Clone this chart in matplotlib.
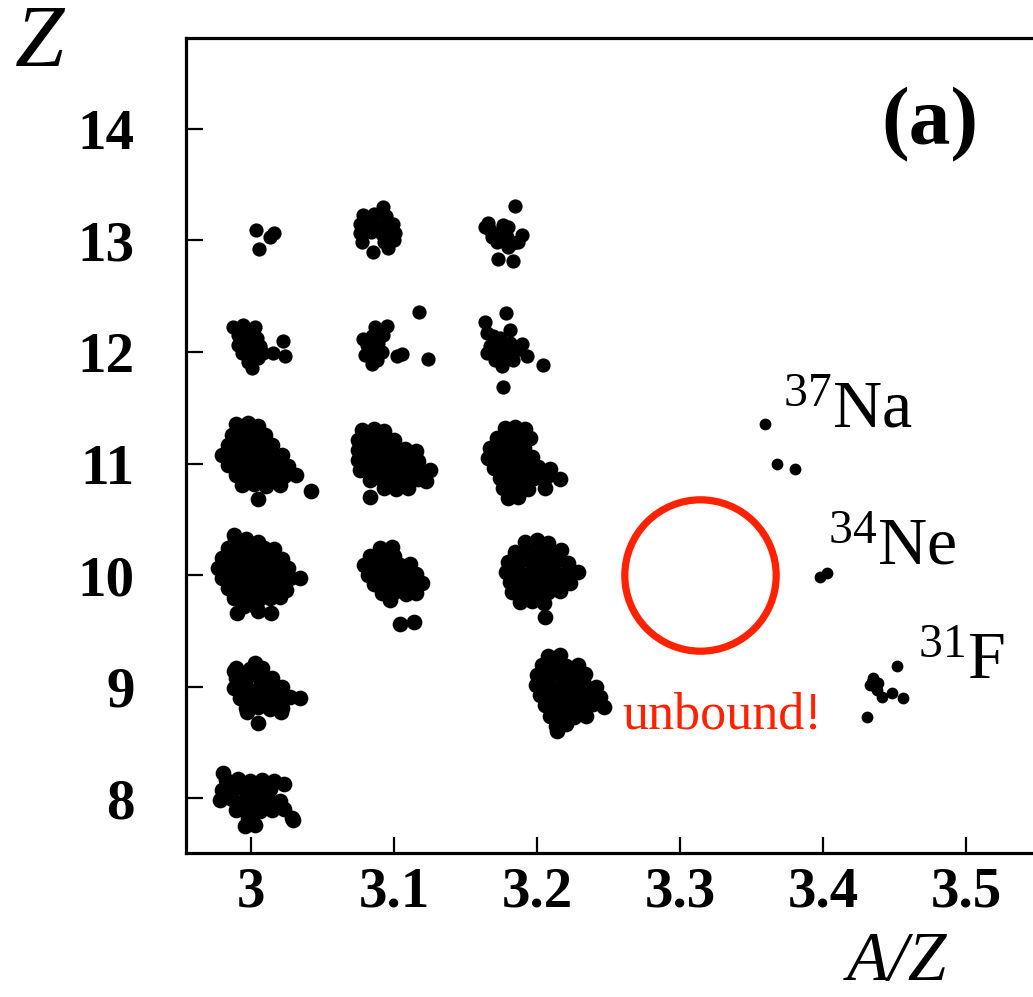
import matplotlib
matplotlib.use("Agg")
import matplotlib.pyplot as plt
from matplotlib.ticker import FixedLocator

plt.rcParams['font.family'] = ['Liberation Serif', 'DejaVu Serif']
plt.rcParams['mathtext.fontset'] = 'custom'
plt.rcParams['mathtext.rm'] = 'Liberation Serif'
plt.rcParams['mathtext.it'] = 'Liberation Serif:italic'

# ---------------- data (A/Z, Z) ----------------
x_ticks = [3.0, 3.1, 3.2, 3.3, 3.4, 3.5]
x_tick_labels = ['3', '3.1', '3.2', '3.3', '3.4', '3.5']
y_ticks = [8, 9, 10, 11, 12, 13, 14]
y_tick_labels = ['8', '9', '10', '11', '12', '13', '14']

c13_300 = [(3.0035, 13.09), (3.0161, 13.07), (3.0133, 13.03), (3.0056, 12.92)]
c13_309 = [(3.0923, 13.30), (3.0783, 13.23), (3.0860, 13.24), (3.0944, 13.22),
           (3.0762, 13.15), (3.0839, 13.16), (3.0916, 13.14), (3.0993, 13.15),
           (3.0762, 13.07), (3.0839, 13.08), (3.0916, 13.06), (3.1007, 13.07),
           (3.0776, 12.99), (3.0930, 12.99), (3.1000, 13.00), (3.0958, 12.93),
           (3.0853, 12.90), (3.0800, 13.19), (3.0880, 13.11), (3.0960, 13.10)]
c13_318 = [(3.1846, 13.31), (3.1657, 13.16), (3.1636, 13.12), (3.1762, 13.14),
           (3.1797, 13.12), (3.1685, 13.03), (3.1720, 12.99), (3.1895, 13.05),
           (3.1867, 12.99), (3.1797, 12.94), (3.1727, 12.83), (3.1832, 12.82),
           (3.1671, 13.09), (3.1755, 13.07), (3.1790, 13.03), (3.1832, 12.98)]

c12_300 = [(2.9874, 12.22), (2.9944, 12.24), (3.0028, 12.22), (2.9909, 12.15),
           (2.9993, 12.17), (3.0042, 12.13), (2.9909, 12.06), (2.9972, 12.05),
           (3.0028, 12.04), (2.9937, 11.99), (3.0014, 11.97), (3.0084, 11.99),
           (3.0154, 11.99), (3.0224, 12.10), (3.0238, 11.96), (3.0007, 11.86),
           (2.9979, 11.91), (3.0063, 12.05), (2.9960, 12.11), (3.0050, 11.95)]
c12_309 = [(3.0951, 12.23), (3.0867, 12.22), (3.0846, 12.14), (3.0923, 12.15),
           (3.0783, 12.12), (3.0811, 12.06), (3.0888, 12.08), (3.0916, 12.00),
           (3.0797, 11.97), (3.0846, 11.89), (3.1021, 11.96), (3.1056, 11.98),
           (3.1175, 12.36), (3.1238, 11.94), (3.0881, 11.93), (3.0860, 12.03)]
c12_318 = [(3.1783, 12.35), (3.1636, 12.27), (3.1650, 12.17), (3.1692, 12.14),
           (3.1811, 12.20), (3.1671, 12.05), (3.1741, 12.06), (3.1811, 12.08),
           (3.1895, 12.07), (3.1930, 11.96), (3.1650, 11.99), (3.1706, 11.93),
           (3.1776, 11.96), (3.1755, 11.87), (3.1832, 11.93), (3.2042, 11.88),
           (3.1762, 11.69), (3.1720, 12.00), (3.1790, 12.00), (3.1740, 12.13),
           (3.1850, 12.02)]

c11_300 = [(2.9895, 11.35), (2.9979, 11.36), (3.0049, 11.34),
           (2.9867, 11.26), (2.9951, 11.27), (3.0035, 11.25), (3.0098, 11.26),
           (2.9839, 11.17), (2.9923, 11.16), (3.0007, 11.18), (3.0077, 11.16), (3.0147, 11.17),
           (2.9797, 11.08), (2.9881, 11.07), (2.9965, 11.09), (3.0049, 11.08), (3.0133, 11.07), (3.0217, 11.08),
           (2.9839, 10.99), (2.9923, 11.00), (3.0007, 10.98), (3.0091, 10.99), (3.0175, 11.00), (3.0259, 10.98),
           (2.9895, 10.90), (2.9979, 10.89), (3.0063, 10.91), (3.0147, 10.90), (3.0231, 10.89), (3.0315, 10.90),
           (2.9937, 10.81), (3.0021, 10.82), (3.0105, 10.80), (3.0203, 10.81),
           (3.0420, 10.75), (3.0049, 10.68)]
c11_309 = [(3.0776, 11.30), (3.0860, 11.31), (3.0930, 11.29),
           (3.0748, 11.21), (3.0832, 11.22), (3.0916, 11.20), (3.1000, 11.21),
           (3.0748, 11.12), (3.0832, 11.13), (3.0916, 11.11), (3.1000, 11.12), (3.1077, 11.13), (3.1154, 11.11),
           (3.0748, 11.03), (3.0832, 11.04), (3.0916, 11.02), (3.1000, 11.03), (3.1084, 11.04), (3.1168, 11.02),
           (3.0762, 10.94), (3.0846, 10.95), (3.0930, 10.93), (3.1014, 10.94), (3.1098, 10.95), (3.1182, 10.93), (3.1252, 10.94),
           (3.0832, 10.85), (3.0916, 10.86), (3.1000, 10.84), (3.1084, 10.85), (3.1168, 10.86), (3.1224, 10.84),
           (3.0930, 10.78), (3.1014, 10.77), (3.1098, 10.78),
           (3.0832, 10.70)]
c11_318 = [(3.1776, 11.32), (3.1846, 11.33), (3.1916, 11.31),
           (3.1720, 11.23), (3.1797, 11.24), (3.1881, 11.22), (3.1951, 11.23),
           (3.1671, 11.14), (3.1748, 11.15), (3.1825, 11.13), (3.1909, 11.14),
           (3.1657, 11.05), (3.1734, 11.06), (3.1811, 11.04), (3.1888, 11.05), (3.1965, 11.06),
           (3.1699, 10.96), (3.1776, 10.97), (3.1853, 10.95), (3.1930, 10.96), (3.2007, 10.97), (3.2091, 10.95),
           (3.1741, 10.87), (3.1818, 10.88), (3.1895, 10.86), (3.1979, 10.87), (3.2063, 10.88), (3.2161, 10.86),
           (3.1762, 10.78), (3.1839, 10.79), (3.1937, 10.77), (3.2056, 10.78),
           (3.1797, 10.69), (3.1867, 10.70)]
c11_336 = [(3.3594, 11.35), (3.3678, 11.00), (3.3804, 10.95)]

c10_300 = [(2.9881, 10.36),
           (2.9888, 10.31), (2.9965, 10.32), (3.0049, 10.30),
           (2.9839, 10.24), (2.9923, 10.25), (3.0007, 10.23), (3.0091, 10.24), (3.0161, 10.23),
           (2.9797, 10.15), (2.9881, 10.16), (2.9965, 10.14), (3.0049, 10.15), (3.0133, 10.16), (3.0217, 10.14),
           (2.9769, 10.06), (2.9853, 10.07), (2.9937, 10.05), (3.0021, 10.06), (3.0105, 10.07), (3.0189, 10.05), (3.0259, 10.06),
           (2.9797, 9.97), (2.9881, 9.98), (2.9965, 9.96), (3.0049, 9.97), (3.0133, 9.98), (3.0217, 9.96), (3.0273, 9.97),
           (2.9839, 9.88), (2.9923, 9.89), (3.0007, 9.87), (3.0091, 9.88), (3.0175, 9.89), (3.0245, 9.87),
           (2.9881, 9.79), (2.9965, 9.80), (3.0049, 9.78), (3.0133, 9.79), (3.0203, 9.80),
           (2.9951, 9.72), (3.0035, 9.71),
           (2.9902, 9.66), (3.0049, 9.68), (3.0140, 9.66), (3.0343, 9.97)]
c10_310 = [(3.0902, 10.24), (3.0986, 10.25),
           (3.0832, 10.17), (3.0916, 10.16), (3.1000, 10.17),
           (3.0790, 10.09), (3.0874, 10.10), (3.0958, 10.08), (3.1042, 10.09), (3.1112, 10.10),
           (3.0818, 10.00), (3.0902, 10.01), (3.0986, 9.99), (3.1070, 10.00), (3.1154, 10.01),
           (3.0860, 9.92), (3.0944, 9.93), (3.1028, 9.91), (3.1112, 9.92), (3.1196, 9.93),
           (3.0916, 9.84), (3.1000, 9.85), (3.1084, 9.83), (3.1154, 9.84),
           (3.0972, 9.78),
           (3.1042, 9.56), (3.1140, 9.58)]
c10_320 = [(3.1916, 10.30), (3.2000, 10.31), (3.2077, 10.29),
           (3.1846, 10.21), (3.1930, 10.22), (3.2014, 10.20), (3.2098, 10.21), (3.2168, 10.22),
           (3.1797, 10.12), (3.1881, 10.13), (3.1965, 10.11), (3.2049, 10.12), (3.2133, 10.13), (3.2217, 10.11),
           (3.1783, 10.03), (3.1867, 10.04), (3.1951, 10.02), (3.2035, 10.03), (3.2119, 10.04), (3.2203, 10.02), (3.2287, 10.03),
           (3.1811, 9.94), (3.1895, 9.95), (3.1979, 9.93), (3.2063, 9.94), (3.2147, 9.95), (3.2231, 9.93),
           (3.1825, 9.85), (3.1909, 9.86), (3.1993, 9.84), (3.2077, 9.85), (3.2161, 9.86),
           (3.1881, 9.76), (3.1965, 9.77), (3.2049, 9.75),
           (3.2056, 9.62)]
c10_340 = [(3.3979, 9.98), (3.4028, 10.02)]

c09_300 = [(3.0028, 9.21), (2.9881, 9.14),
           (2.9895, 9.17), (2.9993, 9.16), (3.0077, 9.17),
           (2.9895, 9.08), (2.9979, 9.09), (3.0063, 9.07), (3.0147, 9.08),
           (2.9881, 8.99), (2.9965, 9.00), (3.0049, 8.98), (3.0133, 8.99), (3.0217, 9.00),
           (2.9923, 8.90), (3.0007, 8.91), (3.0091, 8.89), (3.0175, 8.90), (3.0273, 8.91), (3.0343, 8.90),
           (2.9965, 8.81), (3.0049, 8.82), (3.0133, 8.80), (3.0217, 8.81),
           (3.0049, 8.67), (2.9972, 8.77), (3.0210, 8.77)]
c09_322 = [(3.2077, 9.27), (3.2161, 9.28),
           (3.2035, 9.19), (3.2119, 9.20), (3.2203, 9.18), (3.2287, 9.19),
           (3.2000, 9.10), (3.2084, 9.11), (3.2168, 9.09), (3.2252, 9.10), (3.2336, 9.11),
           (3.1993, 9.01), (3.2077, 9.02), (3.2161, 9.00), (3.2245, 9.01), (3.2329, 9.02), (3.2413, 9.00),
           (3.2021, 8.92), (3.2105, 8.93), (3.2189, 8.91), (3.2273, 8.92), (3.2357, 8.93), (3.2441, 8.91),
           (3.2056, 8.83), (3.2140, 8.84), (3.2224, 8.82), (3.2308, 8.83), (3.2392, 8.84), (3.2469, 8.82),
           (3.2091, 8.74), (3.2175, 8.75), (3.2259, 8.73), (3.2343, 8.74),
           (3.2133, 8.65), (3.2203, 8.66),
           (3.2140, 8.60)]
c09_344 = [(3.4517, 9.18), (3.4350, 9.08), (3.4329, 9.01), (3.4378, 8.97),
           (3.4413, 8.91), (3.4483, 8.94), (3.4559, 8.90), (3.4308, 8.73),
           (3.4343, 9.04), (3.4385, 9.03)]

c08_300 = [(2.9825, 8.16), (2.9909, 8.17), (2.9993, 8.15), (3.0077, 8.16), (3.0161, 8.15),
           (2.9797, 8.07), (2.9881, 8.08), (2.9965, 8.06), (3.0049, 8.07), (3.0133, 8.08),
           (2.9783, 7.98), (2.9867, 7.99), (2.9951, 7.97), (3.0035, 7.98), (3.0119, 7.99), (3.0203, 7.97),
           (2.9895, 7.89), (2.9979, 7.90), (3.0063, 7.88), (3.0147, 7.89), (3.0231, 7.90),
           (2.9979, 7.82), (3.0287, 7.82),
           (2.9804, 8.22), (3.0231, 8.13), (3.0294, 7.80), (2.9958, 7.75), (3.0028, 7.76)]

dense_clusters = [c11_300, c11_309, c11_318, c10_300, c10_310, c10_320,
                  c09_300, c09_322, c08_300]
mid_clusters = [c13_300, c13_309, c13_318, c12_300, c12_309, c12_318]
far_clusters = [c11_336, c10_340, c09_344]

unbound_center = (3.314, 10.0)

# ---------------- figure ----------------
W, H = 1033, 997
fig = plt.figure(figsize=(W / 100, H / 100), dpi=100)
ax = fig.add_axes([186 / W, 144 / H, 852 / W, 815 / H])
ax.set_xlim(2.9545, 3.5503)
ax.set_ylim(7.507, 14.816)

for pts in dense_clusters:
    ax.scatter([p[0] for p in pts], [p[1] for p in pts], s=128, c='black',
               linewidths=0, zorder=3)
for pts in mid_clusters:
    ax.scatter([p[0] for p in pts], [p[1] for p in pts], s=105, c='black',
               linewidths=0, zorder=3)
for pts in far_clusters:
    ax.scatter([p[0] for p in pts], [p[1] for p in pts], s=72, c='black',
               linewidths=0, zorder=3)

ax.plot([unbound_center[0]], [unbound_center[1]], marker='o', ms=109,
        mfc='none', mec='#ff2200', mew=5.2, ls='none', zorder=4)

for side in ['left', 'bottom', 'top']:
    ax.spines[side].set_linewidth(2.3)
ax.spines['right'].set_visible(False)

ax.set_xticks(x_ticks)
ax.set_xticklabels(x_tick_labels, fontweight='bold')
ax.set_yticks(y_ticks)
ax.set_yticklabels(y_tick_labels, fontweight='bold')
ax.xaxis.set_minor_locator(FixedLocator([3.5]))
ax.tick_params(axis='x', which='major', direction='in', length=11.5, width=1.6,
               labelsize=41, pad=10, top=False)
ax.tick_params(axis='x', which='minor', direction='in', length=30, width=1.6,
               top=False)
ax.tick_params(axis='y', which='major', direction='in', length=12, width=1.6,
               labelsize=41, pad=37, right=False)

# labels / annotations
fig.text(40 / W, 1 - 45 / H, 'Z', fontsize=64, fontstyle='italic',
         ha='center', va='center')
fig.text(897 / W, 2 / H, 'A/Z', fontsize=50, fontstyle='italic',
         ha='center', va='bottom')
ax.text(3.475, 14.04, '(a)', fontsize=60, fontweight='bold', ha='center', va='center')
ax.text(3.372, 11.318, r'$^{37}$Na', fontsize=49, ha='left', va='baseline')
ax.text(3.4035, 10.09, r'$^{34}$Ne', fontsize=49, ha='left', va='baseline')
ax.text(3.4664, 9.06, r'$^{31}$F', fontsize=49, ha='left', va='baseline')
ax.text(3.2594, 8.628, 'unbound!', fontsize=37.5, color='#ff2200', ha='left', va='baseline')

fig.savefig('out.png', dpi=100)
